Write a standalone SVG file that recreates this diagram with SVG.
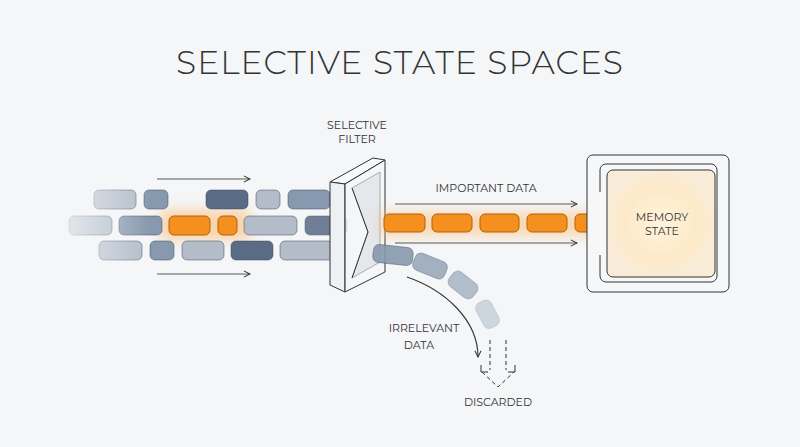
<svg xmlns="http://www.w3.org/2000/svg" width="800" height="447" viewBox="0 0 800 447">
<defs>
<style>
text{font-family:"Montserrat","Open Sans","Liberation Sans",sans-serif;fill:#333;text-anchor:middle}
.lbl{font-size:11px}
.b{stroke:#3c4a5e;stroke-width:1;stroke-opacity:.5}
.d{fill:#5a6b86}.m{fill:#8799ae}.l{fill:#b3bcc8}
.o{fill:#f5901e;stroke:#b0600f;stroke-width:1}
.ln{stroke:#333;stroke-width:1.1;fill:none}
</style>
<marker id="ah" viewBox="0 0 10 10" refX="9" refY="5" markerWidth="7" markerHeight="7" orient="auto"><path d="M1,1L9,5L1,9" fill="none" stroke="#333" stroke-width="1.3"/></marker>
<linearGradient id="fadeL" x1="0" x2="1"><stop offset="0" stop-color="#f4f6f8" stop-opacity=".8"/><stop offset="1" stop-color="#f4f6f8" stop-opacity="0"/></linearGradient>
<radialGradient id="glow"><stop offset="0" stop-color="#fff3dc"/><stop offset=".7" stop-color="#fde9c8"/><stop offset="1" stop-color="#f9ecd8"/></radialGradient>
<filter id="bl" x="-50%" y="-50%" width="200%" height="200%"><feGaussianBlur stdDeviation="6"/></filter>
</defs>
<rect width="800" height="447" fill="#f4f6f8"/>
<text x="400" y="74" style="font-size:33px;font-weight:300;letter-spacing:1px">SELECTIVE STATE SPACES</text>
<g id="input-stream">
<rect x="160" y="210" width="90" height="30" fill="#ffb35c" opacity=".5" filter="url(#bl)"/>
<rect class="b l" x="94" y="190" width="42" height="19" rx="5"/>
<rect class="b m" x="144" y="190" width="24" height="19" rx="5"/>
<rect class="b d" x="206" y="190" width="42" height="19" rx="5"/>
<rect class="b l" x="256" y="190" width="24" height="19" rx="5"/>
<rect class="b m" x="288" y="190" width="42" height="19" rx="5"/>
<rect class="b l" x="69" y="216" width="43" height="19" rx="5"/>
<rect class="b m" x="119" y="216" width="43" height="19" rx="5"/>
<rect class="o" x="169" y="216" width="41" height="19" rx="5"/>
<rect class="o" x="218" y="216" width="19" height="19" rx="5"/>
<rect class="b l" x="244" y="216" width="53" height="19" rx="5"/>
<rect class="b d" x="305" y="216" width="42" height="19" rx="5" opacity=".85"/>
<rect class="b l" x="99" y="241" width="43" height="19" rx="5"/>
<rect class="b m" x="150" y="241" width="24" height="19" rx="5"/>
<rect class="b l" x="182" y="241" width="42" height="19" rx="5"/>
<rect class="b d" x="231" y="241" width="42" height="19" rx="5"/>
<rect class="b l" x="280" y="241" width="53" height="19" rx="5"/>
<rect x="60" y="185" width="90" height="80" fill="url(#fadeL)"/>
</g>
<g id="filter">
<text class="lbl" x="357" y="129">SELECTIVE</text>
<text class="lbl" x="357" y="143">FILTER</text>
<polygon points="330,182 373,158 385,160 345,184" fill="#f8f9fb" stroke="#333" stroke-width="1"/>
<polygon points="330,182 345,184 345,292 330,285" fill="#eef0f3" stroke="#333" stroke-width="1"/>
<polygon points="345,184 385,160 385,272 345,292" fill="#f4f6f8" fill-opacity=".8" stroke="#333" stroke-width="1"/>
<polygon points="352,188 380,172 380,262 352,278 368,232" fill="#dde2e8" fill-opacity=".7" stroke="#999" stroke-width=".8"/>
<polyline points="352,188 368,232 352,278" fill="none" stroke="#333" stroke-width="1"/>
</g>
<g id="important">
<rect x="380" y="212" width="230" height="24" fill="#ffb35c" opacity=".45" filter="url(#bl)"/>
<text class="lbl" x="486" y="192">IMPORTANT DATA</text>
<rect class="o" x="384" y="214" width="41" height="18" rx="5"/>
<rect class="o" x="432" y="214" width="40" height="18" rx="5"/>
<rect class="o" x="480" y="214" width="39" height="18" rx="5"/>
<rect class="o" x="527" y="214" width="40" height="18" rx="5"/>
<rect class="o" x="575" y="214" width="22" height="18" rx="5"/>
</g>
<g id="memory">
<rect x="587" y="155" width="142" height="137" rx="6" fill="#f6f7f9" stroke="#333" stroke-width="1"/>
<path d="M600,192V170a6,6 0 0 1 6,-6H711a6,6 0 0 1 6,6V276a6,6 0 0 1 -6,6H606a6,6 0 0 1 -6,-6V255" fill="none" stroke="#333"/>
<rect x="607" y="170" width="108" height="107" rx="6" fill="url(#glow)" stroke="#333"/>
<text class="lbl" x="662" y="221">MEMORY</text>
<text class="lbl" x="662" y="235">STATE</text>
</g>
<g id="discarded">
<rect class="b m" x="373" y="246" width="40" height="18" rx="6" transform="rotate(6 393 255)" opacity=".9"/>
<rect class="b m" x="413" y="257" width="34" height="18" rx="6" transform="rotate(22 430 266)" opacity=".75"/>
<rect class="b m" x="448" y="276" width="30" height="18" rx="6" transform="rotate(38 463 285)" opacity=".6"/>
<rect class="b m" x="474" y="306" width="28" height="17" rx="6" transform="rotate(62 488 314)" opacity=".35"/>
<text class="lbl" x="424" y="332">IRRELEVANT</text>
<text class="lbl" x="419" y="349">DATA</text>
<text class="lbl" x="498" y="406">DISCARDED</text>
</g>
<g id="connectors">
<line class="ln" x1="157" y1="179" x2="250" y2="179" marker-end="url(#ah)" stroke-opacity=".8"/>
<line class="ln" x1="157" y1="274" x2="250" y2="274" marker-end="url(#ah)" stroke-opacity=".8"/>
<line class="ln" x1="395" y1="204" x2="577" y2="204" marker-end="url(#ah)" stroke-opacity=".8"/>
<line class="ln" x1="395" y1="243" x2="577" y2="243" marker-end="url(#ah)" stroke-opacity=".8"/>
<path class="ln" d="M407,277C445,290 478,320 478,357" marker-end="url(#ah)"/>
<g stroke="#333" stroke-dasharray="4,3" fill="none" stroke-width="1">
<line x1="490" y1="340" x2="490" y2="370"/>
<line x1="506" y1="340" x2="506" y2="370"/>
<polyline points="482,372 498,387 514,372"/>
<path d="M481,365l0,7l7,0M515,365l0,7l-7,0" stroke-dasharray="none"/>
</g>
</g>
</svg>
